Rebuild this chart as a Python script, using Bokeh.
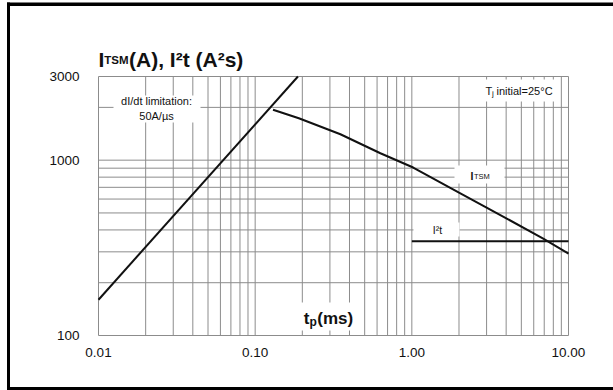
import math
from bokeh.plotting import figure
from bokeh.models import Label, FixedTicker, PrintfTickFormatter, BoxAnnotation
from bokeh.embed import file_html
from bokeh.resources import INLINE

# ---------------- data ----------------
tp_didt = [0.01, 0.1875]          # dI/dt limitation line, tp (ms)
i_didt = [160, 3000]              # A
tp_itsm = [0.13, 0.19, 0.35, 0.63, 1.02, 2.0, 3.0, 6.9, 10.0]
i_itsm = [1940, 1735, 1405, 1095, 908, 653, 537, 357, 293]
tp_i2t = [1.0, 10.0]
i2t_vals = [345, 345]

x_ticks = [0.01, 0.1, 1.0, 10.0]
y_ticks = [100, 1000, 3000]
x_grid = [0.01, 0.02, 0.03, 0.04, 0.05, 0.06, 0.07, 0.08, 0.09,
          0.1, 0.2, 0.3, 0.4, 0.5, 0.6, 0.7, 0.8, 0.9,
          1.0, 2.0, 3.0, 4.0, 5.0, 6.0, 7.0, 8.0, 9.0, 10.0]
y_grid = [100, 200, 300, 400, 500, 600, 700, 800, 900, 1000, 2000, 3000]
x_lo, x_hi = 0.01, 10.0
y_lo, y_hi = 100, 3000

# ---------------- layout (pixels) ----------------
W, H = 613, 390
PL, PR, PT, PB = 98, 568, 76, 335      # plot area inside the canvas
GRID = "#8c8c8c"
INK = "#111111"
FONT = "Liberation Sans"
UP = 3.5        # baseline correction for alphabetic labels
UPT = 1.5       # correction for top-anchored labels

dpx_x = (math.log10(x_hi) - math.log10(x_lo)) / (PR - PL)
dpx_y = (math.log10(y_hi) - math.log10(y_lo)) / (PB - PT)
x_start = 10 ** (math.log10(x_lo) - PL * dpx_x)
x_end = 10 ** (math.log10(x_hi) + (W - PR) * dpx_x)
y_start = 10 ** (math.log10(y_lo) - (H - PB) * dpx_y)
y_end = 10 ** (math.log10(y_hi) + PT * dpx_y)

p = figure(width=W, height=H, x_axis_type="log", y_axis_type="log",
           x_range=(x_start, x_end), y_range=(y_start, y_end), title=None,
           output_backend="svg", toolbar_location=None, min_border=0)
p.outline_line_color = None
p.background_fill_color = "white"
p.border_fill_color = "white"
p.xgrid.visible = False
p.ygrid.visible = False

for ax in (p.xaxis[0], p.yaxis[0]):
    ax.axis_line_color = None
    ax.major_tick_line_color = None
    ax.minor_tick_line_color = None
    ax.major_tick_out = 0
    ax.major_tick_in = 0
    ax.major_label_text_font = FONT
    ax.major_label_text_font_size = "13.5px"
    ax.major_label_text_color = INK

p.xaxis.fixed_location = y_lo
p.xaxis.ticker = FixedTicker(ticks=x_ticks)
p.xaxis.formatter = PrintfTickFormatter(format="%.2f")
p.xaxis.major_label_standoff = 12
p.yaxis.fixed_location = x_lo
p.yaxis.ticker = FixedTicker(ticks=y_ticks)
p.yaxis.formatter = PrintfTickFormatter(format="%d")
p.yaxis.major_label_standoff = 19

# grid limited to the plot area
p.segment(x0=x_grid, y0=[y_lo] * len(x_grid), x1=x_grid, y1=[y_hi] * len(x_grid),
          line_color=GRID, line_width=1)
p.segment(x0=[x_lo] * len(y_grid), y0=y_grid, x1=[x_hi] * len(y_grid), y1=y_grid,
          line_color=GRID, line_width=1)

p.line(tp_didt, i_didt, line_color=INK, line_width=2)
p.line(tp_itsm, i_itsm, line_color=INK, line_width=2)
p.line(tp_i2t, i2t_vals, line_color=INK, line_width=2)


def sbox(l, r, t, b, color="white", level="annotation"):
    """filled box, given in top-down canvas pixels"""
    p.add_layout(BoxAnnotation(left=l, right=r, top=H - t, bottom=H - b,
                               left_units="screen", right_units="screen",
                               top_units="screen", bottom_units="screen",
                               fill_color=color, fill_alpha=1.0,
                               line_color=None, level=level))


def lab(text, ax, ay, dx, dy, size, bold=False, align="left",
        baseline="alphabetic"):
    corr = UP if baseline == "alphabetic" else UPT
    p.add_layout(Label(x=ax, y=ay, x_units="data", y_units="data",
                       x_offset=dx, y_offset=dy + corr, text=text,
                       text_font=FONT, text_font_size=f"{size}px",
                       text_font_style="bold" if bold else "normal",
                       text_align=align, text_baseline=baseline,
                       text_color=INK))


# white boxes behind annotations
sbox(113, 200, 95, 122)      # dI/dt
sbox(483, 557, 79, 101)      # Tj
sbox(454, 504, 165, 183)     # ITSM
sbox(413, 459, 222, 236)     # I2t
sbox(292, 360, 302, 330)     # tp(ms)

# title (above plot area)
lab("I", x_lo, y_hi, 0, 13.3, 21, bold=True)
lab("TSM", x_lo, y_hi, 5.8, 13.3, 11.5, bold=True)
lab("(A), I\u00b2t (A\u00b2s)", x_lo, y_hi, 30.5, 13.3, 21, bold=True)

# dI/dt annotation
lab("dI/dt limitation:\n50A/\u00b5s", x_lo, y_hi, 58, -20.3, 11,
    align="center", baseline="top")

# Tj initial
lab("T", x_lo, y_hi, 387, -18, 11)
lab("j", x_lo, y_hi, 393.5, -20.5, 8)
lab("initial=25\u00b0C", x_lo, y_hi, 398, -18, 11)

# ITSM label
lab("I", x_lo, y_hi, 372, -103.3, 10.5, bold=True)
lab("TSM", x_lo, y_hi, 375.5, -103.3, 7.5)

# I2t label
lab("I\u00b2t", x_lo, y_hi, 339, -157, 10.5, align="center")

# axis label tp(ms)
lab("t", x_lo, y_lo, 205.3, 13.3, 17, bold=True)
lab("p", x_lo, y_lo, 211, 10.5, 12, bold=True)
lab("(ms)", x_lo, y_lo, 218.8, 13.3, 17, bold=True)

# outer border (left, top, bottom edges; right edge lies outside the picture)
sbox(6.5, 9.5, 2, H, color="black", level="overlay")
sbox(6.5, W, 2, 5.5, color="black", level="overlay")
sbox(6.5, W, 386.5, H, color="black", level="overlay")

open("out.html", "w").write(file_html(p, INLINE))
